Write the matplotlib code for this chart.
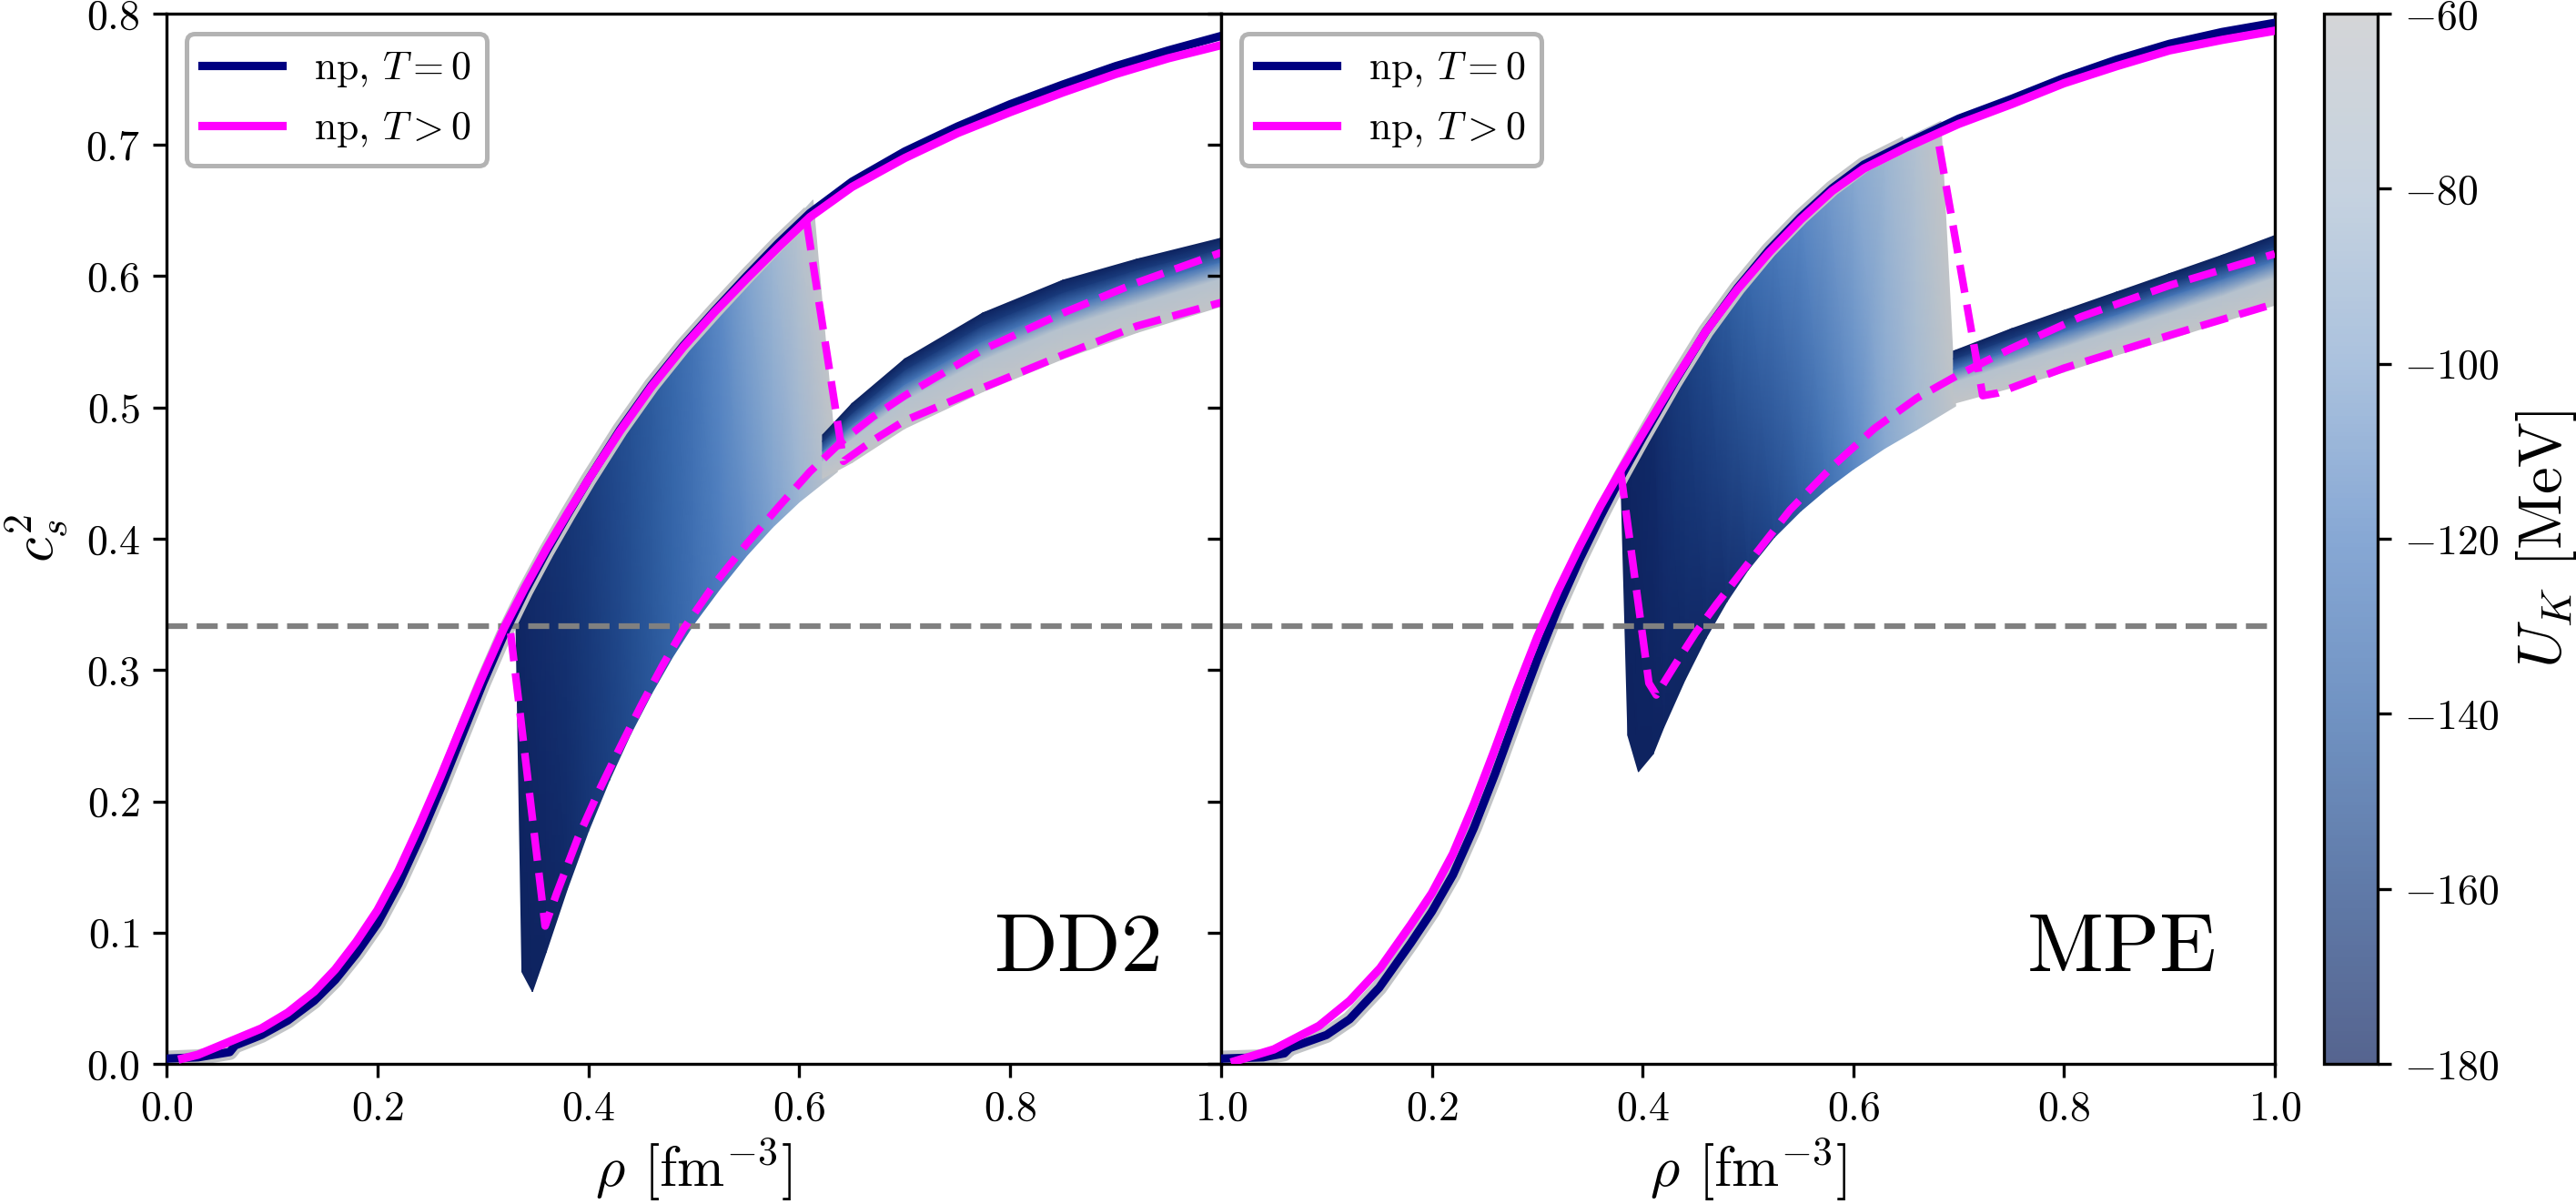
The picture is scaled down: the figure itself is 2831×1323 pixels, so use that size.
import numpy as np
import matplotlib
matplotlib.use("Agg")
import matplotlib.pyplot as plt
from matplotlib.colors import LinearSegmentedColormap, Normalize
from matplotlib.cm import ScalarMappable

plt.rcParams["font.family"] = "serif"
plt.rcParams["font.serif"] = ["cmr10"]
plt.rcParams["mathtext.fontset"] = "cm"
plt.rcParams["axes.formatter.use_mathtext"] = True

# colour scale of the kaon potential
uk_ticks = [-180, -160, -140, -120, -100, -80, -60]
uk_colors = ["#0e2360", "#1c4284", "#3465a9", "#5483c3", "#87a8d0", "#aec0d3", "#c2c4c7"]

# ---------------- DD2 ----------------
dd2_np_rho = [0.0, 0.03, 0.06, 0.065, 0.09, 0.115, 0.14, 0.16, 0.18, 0.2, 0.22, 0.24, 0.26, 0.28,
              0.3, 0.32, 0.34, 0.36, 0.38, 0.4, 0.43, 0.46, 0.49, 0.52, 0.55, 0.58, 0.61, 0.65,
              0.7, 0.75, 0.8, 0.85, 0.9, 0.95, 1.0]
dd2_np_cs2 = [0.004, 0.005, 0.009, 0.014, 0.022, 0.033, 0.048, 0.064, 0.084, 0.107, 0.137, 0.172,
              0.21, 0.25, 0.29, 0.327, 0.36, 0.39, 0.418, 0.445, 0.483, 0.517, 0.547, 0.574, 0.6,
              0.625, 0.648, 0.672, 0.695, 0.714, 0.731, 0.746, 0.76, 0.772, 0.783]
dd2_npT_rho = [0.015, 0.03, 0.06, 0.09, 0.115, 0.14, 0.16, 0.18, 0.2, 0.22, 0.24, 0.26, 0.28,
               0.3, 0.32, 0.34, 0.36, 0.38, 0.4, 0.43, 0.46, 0.49, 0.52, 0.55, 0.58, 0.61, 0.65,
               0.7, 0.75, 0.8, 0.85, 0.9, 0.95, 1.0]
dd2_npT_cs2 = [0.004, 0.007, 0.017, 0.027, 0.039, 0.055, 0.072, 0.093, 0.117, 0.147, 0.182, 0.219,
               0.258, 0.296, 0.332, 0.363, 0.392, 0.419, 0.445, 0.482, 0.516, 0.546, 0.573, 0.598,
               0.622, 0.645, 0.668, 0.69, 0.709, 0.725, 0.74, 0.754, 0.766, 0.776]
dd2_shallow_onset = 0.615

# kaon cloud before the second branch: lower / upper edge and the U_K colour seen there
dd2_lo_rho = [0.337, 0.347, 0.36, 0.38, 0.40, 0.42, 0.44, 0.46, 0.48, 0.50, 0.525, 0.55,
              0.575, 0.60, 0.636]
dd2_lo_cs2 = [0.07, 0.055, 0.085, 0.133, 0.177, 0.216, 0.251, 0.282, 0.31, 0.335, 0.362, 0.387,
              0.409, 0.428, 0.451]
dd2_lo_uk = [-180, -180, -179, -175, -168, -162, -155, -148, -141, -134, -125, -115,
             -104, -90, -62]
dd2_hi_rho = [0.331, 0.34, 0.36, 0.38, 0.40, 0.42, 0.44, 0.46, 0.48, 0.50, 0.525, 0.55,
              0.575, 0.598, 0.613]
dd2_hi_cs2 = [0.35, 0.364, 0.395, 0.423, 0.449, 0.474, 0.498, 0.52, 0.541, 0.561, 0.584, 0.605,
              0.626, 0.645, 0.658]
dd2_hi_uk = [-178, -176, -172, -168, -163, -157, -151, -145, -138, -130, -117, -103,
             -88, -72, -61]

# high density branch, one row per U_K (bottom to top)
band_uk = [-60, -72, -130, -165, -180]
dd2_band_rho = [0.622, 0.65, 0.7, 0.774, 0.85, 0.92, 1.0]
dd2_band_cs2 = [
    [0.446, 0.458, 0.484, 0.512, 0.537, 0.557, 0.577],
    [0.459, 0.476, 0.505, 0.536, 0.561, 0.579, 0.598],
    [0.467, 0.487, 0.518, 0.551, 0.576, 0.593, 0.611],
    [0.474, 0.496, 0.529, 0.563, 0.588, 0.605, 0.621],
    [0.479, 0.503, 0.537, 0.572, 0.597, 0.613, 0.629],
]

# T > 0 with kaons, deepest and shallowest potential
dd2_deep_rho = [0.3263, 0.359, 0.37, 0.39, 0.41, 0.43, 0.45, 0.47, 0.49, 0.52, 0.55, 0.58,
                0.61, 0.64, 0.67, 0.7, 0.774, 0.85, 0.92, 1.0]
dd2_deep_cs2 = [0.328, 0.105, 0.13, 0.172, 0.208, 0.241, 0.273, 0.303, 0.331, 0.366, 0.396, 0.424,
                0.451, 0.474, 0.493, 0.509, 0.544, 0.572, 0.595, 0.618]
dd2_shal_rho = [0.607, 0.642, 0.67, 0.7, 0.774, 0.85, 0.92, 1.0]
dd2_shal_cs2 = [0.641, 0.459, 0.475, 0.49, 0.515, 0.54, 0.562, 0.58]

# ---------------- MPE ----------------
mpe_np_rho = [0.0, 0.04, 0.06, 0.065, 0.1, 0.122, 0.15, 0.18, 0.2, 0.22, 0.24, 0.26, 0.28, 0.3,
              0.32, 0.34, 0.36, 0.38, 0.4, 0.43, 0.46, 0.49, 0.52, 0.55, 0.58, 0.61, 0.65, 0.7,
              0.75, 0.8, 0.85, 0.9, 0.95, 1.0]
mpe_np_cs2 = [0.004, 0.005, 0.008, 0.012, 0.022, 0.034, 0.058, 0.092, 0.116, 0.144, 0.18, 0.221,
              0.265, 0.308, 0.348, 0.384, 0.417, 0.448, 0.477, 0.519, 0.558, 0.591, 0.62, 0.645,
              0.667, 0.685, 0.701, 0.72, 0.735, 0.751, 0.765, 0.777, 0.786, 0.793]
mpe_npT_rho = [0.013, 0.05, 0.093, 0.122, 0.151, 0.18, 0.2, 0.22, 0.24, 0.26, 0.28, 0.3, 0.32,
               0.34, 0.36, 0.38, 0.4, 0.43, 0.46, 0.49, 0.52, 0.55, 0.58, 0.61, 0.65, 0.7, 0.75,
               0.8, 0.85, 0.9, 0.95, 1.0]
mpe_npT_cs2 = [0.002, 0.011, 0.029, 0.048, 0.073, 0.106, 0.13, 0.16, 0.198, 0.24, 0.284, 0.325,
               0.361, 0.394, 0.425, 0.453, 0.48, 0.52, 0.558, 0.59, 0.618, 0.643, 0.665, 0.682,
               0.698, 0.716, 0.731, 0.747, 0.76, 0.772, 0.78, 0.787]
mpe_shallow_onset = 0.69

mpe_lo_rho = [0.386, 0.396, 0.41, 0.42, 0.44, 0.46, 0.48, 0.5, 0.525, 0.55, 0.575, 0.6, 0.63,
              0.66, 0.697]
mpe_lo_cs2 = [0.25, 0.2225, 0.236, 0.256, 0.292, 0.324, 0.352, 0.376, 0.401, 0.421, 0.438, 0.453,
              0.469, 0.483, 0.501]
mpe_lo_uk = [-180, -180, -180, -179, -178, -176, -172, -166, -157, -146, -133, -118, -100,
             -85, -62]
mpe_hi_rho = [0.379, 0.39, 0.41, 0.42, 0.44, 0.46, 0.48, 0.5, 0.525, 0.55, 0.575, 0.6, 0.63,
              0.66, 0.683]
mpe_hi_cs2 = [0.456, 0.471, 0.497, 0.51, 0.537, 0.562, 0.584, 0.604, 0.627, 0.648, 0.666, 0.683,
              0.697, 0.709, 0.718]
mpe_hi_uk = [-180, -178, -175, -170, -162, -154, -145, -136, -127, -118, -109, -100, -89,
             -75, -60]

mpe_band_rho = [0.695, 0.75, 0.8, 0.85, 0.9, 0.95, 1.0]
mpe_band_cs2 = [
    [0.503, 0.515, 0.527, 0.540, 0.552, 0.565, 0.578],
    [0.519, 0.533, 0.546, 0.559, 0.572, 0.585, 0.599],
    [0.529, 0.544, 0.558, 0.571, 0.585, 0.598, 0.612],
    [0.537, 0.553, 0.567, 0.581, 0.595, 0.608, 0.623],
    [0.543, 0.560, 0.574, 0.588, 0.602, 0.616, 0.631],
]

mpe_deep_rho = [0.379, 0.406, 0.413, 0.43, 0.45, 0.47, 0.5, 0.54, 0.58, 0.62, 0.66, 0.7, 0.75,
                0.8157, 0.9, 1.0]
mpe_deep_cs2 = [0.452, 0.29, 0.281, 0.303, 0.328, 0.35, 0.381, 0.422, 0.455, 0.484, 0.507, 0.525,
                0.545, 0.569, 0.593, 0.617]
mpe_shal_rho = [0.6815, 0.7228, 0.737, 0.8, 0.9, 1.0]
mpe_shal_cs2 = [0.699, 0.509, 0.511, 0.53, 0.555, 0.579]

cmap = LinearSegmentedColormap.from_list("uk", uk_colors)
norm = Normalize(vmin=-180, vmax=-60)
halo_color = uk_colors[-1]


def draw_panel(ax, name, np_rho, np_cs2, npT_rho, npT_cs2, onset,
               lo, hi, band_rho, band_cs2, deep, shallow):
    """
    One EoS: kaon cloud coloured by U_K, np curves and the T>0 kaon curves
    """
    # cloud between kaon onset and the second branch
    X = np.array([lo[0], hi[0]])
    Y = np.array([lo[1], hi[1]])
    C = np.array([lo[2], hi[2]], dtype=float)
    ax.pcolormesh(X, Y, C, cmap=cmap, norm=norm, shading="gouraud", zorder=1)

    # high density branch
    Xb = np.tile(band_rho, (len(band_uk), 1))
    Yb = np.array(band_cs2)
    Cb = np.repeat(np.array(band_uk, dtype=float)[:, None], len(band_rho), axis=1)
    ax.pcolormesh(Xb, Yb, Cb, cmap=cmap, norm=norm, shading="gouraud", zorder=1)

    # grey rim of the shallow-potential points that sit on the np curve
    r = np.array(np_rho)
    c = np.array(np_cs2)
    m = r <= onset
    ax.plot(r[m], c[m], color=halo_color, lw=4.2, zorder=1.5, solid_capstyle="butt")

    ax.axhline(1 / 3, color="gray", ls="--", lw=1.5, zorder=2)

    ax.plot(np_rho, np_cs2, color="navy", lw=2.2, zorder=3, label="np, $T=0$")
    ax.plot(npT_rho, npT_cs2, color="magenta", lw=2.2, zorder=3.1, label="np, $T>0$")

    ax.plot(deep[0], deep[1], color="magenta", ls="--", lw=2, zorder=4)
    ax.plot(shallow[0], shallow[1], color="magenta", ls="--", lw=2, zorder=4)

    ax.text(0.945, 0.088, name, transform=ax.transAxes, ha="right", va="baseline", fontsize=22)

    leg = ax.legend(loc="upper left", fontsize=10.5, handlelength=2.0, framealpha=1,
                    edgecolor="0.7", borderaxespad=0.5)
    leg.get_frame().set_linewidth(1.2)

    ax.set_xlim(0, 1)
    ax.set_ylim(0, 0.8)
    ax.tick_params(labelsize=11)
    ax.set_xlabel(r"$\rho$ [fm$^{-3}$]", fontsize=15, labelpad=2)


W, H = 2831, 1323
fig = plt.figure(figsize=(W / 300, H / 300), dpi=300)
ax1 = fig.add_axes([183 / W, 154 / H, 1159 / W, 1154 / H])
ax2 = fig.add_axes([1342 / W, 154 / H, 1158 / W, 1154 / H], sharey=ax1)
cax = fig.add_axes([2554 / W, 154 / H, 59 / W, 1154 / H])

draw_panel(ax1, "DD2", dd2_np_rho, dd2_np_cs2, dd2_npT_rho, dd2_npT_cs2, dd2_shallow_onset,
           (dd2_lo_rho, dd2_lo_cs2, dd2_lo_uk), (dd2_hi_rho, dd2_hi_cs2, dd2_hi_uk),
           dd2_band_rho, dd2_band_cs2,
           (dd2_deep_rho, dd2_deep_cs2), (dd2_shal_rho, dd2_shal_cs2))
draw_panel(ax2, "MPE", mpe_np_rho, mpe_np_cs2, mpe_npT_rho, mpe_npT_cs2, mpe_shallow_onset,
           (mpe_lo_rho, mpe_lo_cs2, mpe_lo_uk), (mpe_hi_rho, mpe_hi_cs2, mpe_hi_uk),
           mpe_band_rho, mpe_band_cs2,
           (mpe_deep_rho, mpe_deep_cs2), (mpe_shal_rho, mpe_shal_cs2))

ax1.set_xticks([0.0, 0.2, 0.4, 0.6, 0.8, 1.0])
ax2.set_xticks([0.2, 0.4, 0.6, 0.8, 1.0])
ax1.set_yticks(np.arange(0, 0.81, 0.1))
ax2.tick_params(labelleft=False)
ax1.set_ylabel("$c_s^2$", fontsize=15)

sm = ScalarMappable(norm=norm, cmap=cmap)
cb = fig.colorbar(sm, cax=cax, alpha=0.7)
cb.set_ticks(uk_ticks)
cb.ax.tick_params(labelsize=11)
cb.set_label("$U_K$ [MeV]", fontsize=16)

fig.savefig("out.png", dpi=300)
